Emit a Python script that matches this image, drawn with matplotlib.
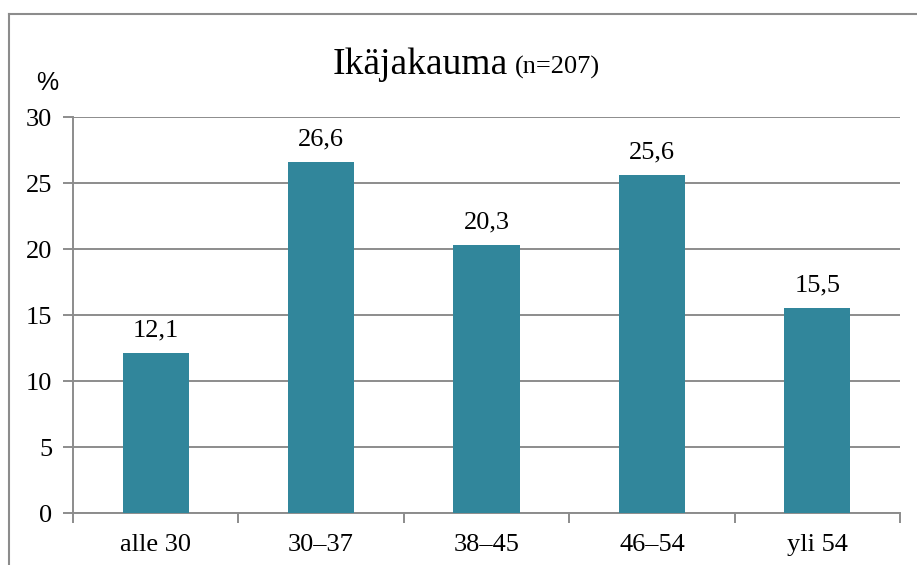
import matplotlib
matplotlib.use("Agg")
import matplotlib.pyplot as plt
from matplotlib.lines import Line2D

categories = ["alle 30", "30–37", "38–45", "46–54", "yli 54"]
values = [12.1, 26.6, 20.3, 25.6, 15.5]
value_labels = ["12,1", "26,6", "20,3", "25,6", "15,5"]
yticks = [0, 5, 10, 15, 20, 25, 30]

W, H = 917, 565
fig = plt.figure(figsize=(W / 100, H / 100), dpi=100)
serif = ["Liberation Serif", "DejaVu Serif"]

ax = fig.add_axes([73 / W, 1 - 513 / H, (900 - 73) / W, (513 - 117) / H])
bar_color = "#31869B"
grid_color = "#8C8C8C"

x = list(range(len(categories)))
ax.bar(x, values, width=0.4, color=bar_color, zorder=3)
ax.set_xlim(-0.5, len(categories) - 0.5)
ax.set_ylim(0, 30)
ax.set_yticks(yticks)
ax.set_yticklabels([str(v) for v in yticks], fontfamily=serif, fontsize=19)
ax.yaxis.grid(True, color=grid_color, linewidth=1.4, zorder=0)
ax.tick_params(axis="y", length=7, width=1.4, color=grid_color, pad=8)

ax.set_xticks(x)
ax.set_xticklabels(categories, fontfamily=serif, fontsize=19)
ax.tick_params(axis="x", length=0, pad=15)
ax.set_xticks([i - 0.5 for i in range(len(categories) + 1)], minor=True)
ax.tick_params(axis="x", which="minor", length=7, width=1.4, color=grid_color)

for s in ["top", "right"]:
    ax.spines[s].set_visible(False)
for s in ["left", "bottom"]:
    ax.spines[s].set_color(grid_color)
    ax.spines[s].set_linewidth(1.4)

for xi, v, lab in zip(x, values, value_labels):
    ax.annotate(lab, (xi, v), xytext=(0, 12), textcoords="offset points",
                ha="center", va="baseline", fontfamily=serif, fontsize=19)

# title
fig.text(333 / W, 1 - 74 / H, "Ikäjakauma", fontfamily=serif, fontsize=27,
         ha="left", va="baseline")
fig.text(515 / W, 1 - 74 / H, "(n=207)", fontfamily=serif, fontsize=19,
         ha="left", va="baseline")

fig.text(47 / W, 1 - 90 / H, "%", fontfamily="Liberation Sans", fontsize=18,
         ha="center", va="baseline")

# border
fig.add_artist(Line2D([9 / W, 9 / W], [0, 1 - 13.5 / H], transform=fig.transFigure,
                      color="#8C8C8C", linewidth=1.5))
fig.add_artist(Line2D([9 / W, 1], [1 - 13.5 / H, 1 - 13.5 / H], transform=fig.transFigure,
                      color="#8C8C8C", linewidth=1.5))

fig.savefig("out.png", dpi=100)
